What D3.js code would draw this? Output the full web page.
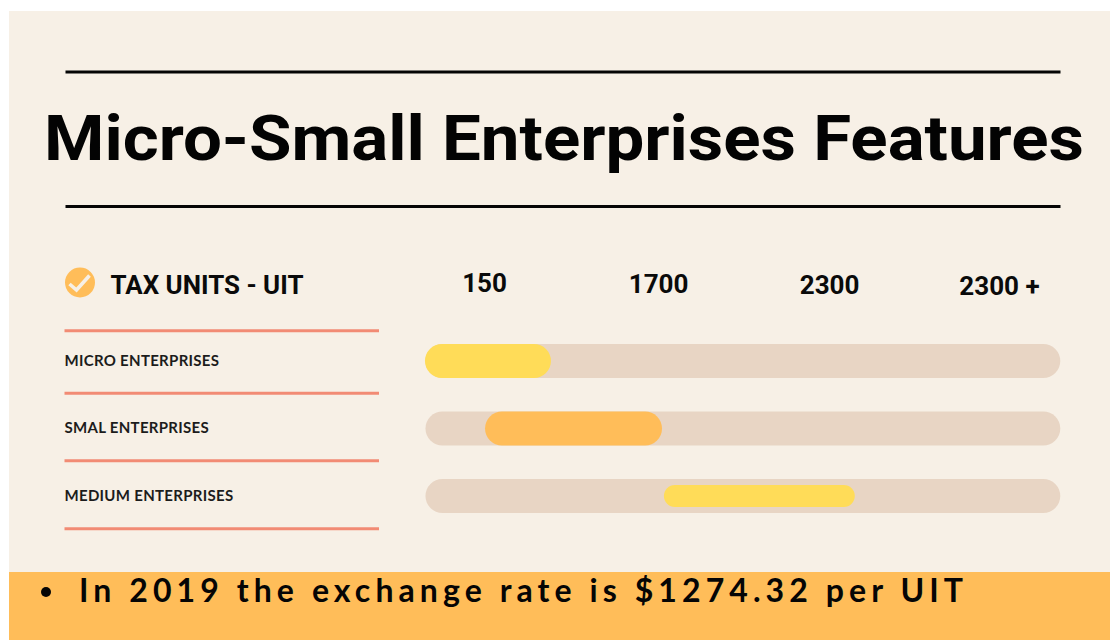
<!DOCTYPE html>
<html><head><meta charset="utf-8">
<style>html,body{margin:0;padding:0;background:#fff}svg{display:block}</style>
<script src="https://cdn.jsdelivr.net/npm/d3@7/dist/d3.min.js"></script>
</head><body>
<svg id="c" width="1110" height="640"></svg>
<script>
const titleText = "Micro-Small Enterprises Features";
const axisTitle = "TAX UNITS - UIT";
const tickLabels = ["150", "1700", "2300", "2300 +"];
const tickPositions = [0, 1.014, 2.01, 3];
const categories = ["MICRO ENTERPRISES", "SMAL ENTERPRISES", "MEDIUM ENTERPRISES"];
const rangeStart = [-0.344, 0.006, 1.048];
const rangeEnd = [0.39, 1.037, 2.16];
const trackStart = -0.341;
const trackEnd = 3.357;
const note = "In 2019 the exchange rate is $1274.32 per UIT";

const svg = d3.select("#c");
const x = d3.scaleLinear().domain([0, 3]).range([484, 999]);
const y = d3.scalePoint().domain(categories).range([361, 496]);
const barColor = ["#ffdc58", "#ffbd59", "#ffdc58"];
const barHeight = [34, 34, 22];
const sans = "Roboto, sans-serif";

// panels
svg.append("rect").attr("x", 9).attr("y", 11).attr("width", 1101).attr("height", 561).attr("fill", "#f7f0e6");
svg.append("rect").attr("x", 9).attr("y", 572).attr("width", 1101).attr("height", 68).attr("fill", "#ffbd59");

// title rules
svg.selectAll("line.rule").data([72, 206.5]).join("line").attr("class", "rule")
  .attr("x1", 65.5).attr("x2", 1060.5).attr("y1", d => d).attr("y2", d => d)
  .attr("stroke", "#050505").attr("stroke-width", 3);

svg.append("text").text(titleText)
  .attr("x", 44).attr("y", 160)
  .attr("font-family", sans).attr("font-weight", 700).attr("font-size", 63)
  .attr("textLength", 1040).attr("lengthAdjust", "spacingAndGlyphs")
  .attr("fill", "#030303");

// header
svg.append("ellipse").attr("cx", 80).attr("cy", 282.5).attr("rx", 15).attr("ry", 15).attr("fill", "#ffbd59");
svg.append("path").attr("d", "M69.5 284 L76.5 290 L89.5 275.5").attr("fill", "none")
  .attr("stroke", "#f7f0e6").attr("stroke-width", 3.6);
svg.append("text").text(axisTitle)
  .attr("x", 110.5).attr("y", 293.5)
  .attr("font-family", sans).attr("font-weight", 700).attr("font-size", 25)
  .attr("textLength", 193).attr("lengthAdjust", "spacingAndGlyphs").attr("fill", "#0a0a0a");

// top axis of tax-unit thresholds
const axis = d3.axisTop(x).tickValues(tickPositions).tickFormat((d, i) => tickLabels[i]).tickSize(0).tickPadding(0);
const ag = svg.append("g").attr("transform", "translate(0,292)").call(axis);
ag.select(".domain").remove();
ag.selectAll("text")
  .attr("font-family", sans).attr("font-weight", 700).attr("font-size", 26)
  .attr("fill", "#0a0a0a")
  .attr("dy", (d, i) => i)
  .attr("y", 0);

// salmon separators
const sepY = [330.7, 393.3, 460.7, 528.7];
svg.selectAll("line.sep").data(sepY).join("line").attr("class", "sep")
  .attr("x1", 64.5).attr("x2", 379).attr("y1", d => d).attr("y2", d => d)
  .attr("stroke", "#f28b74").attr("stroke-width", 3);

// category labels
svg.selectAll("text.cat").data(categories).join("text").attr("class", "cat")
  .text(d => d)
  .attr("x", 64.5).attr("y", (d, i) => y(d) + (i === 1 ? 4 : 5))
  .attr("font-family", "Lato, sans-serif").attr("font-weight", 700).attr("font-size", 15)
  .attr("letter-spacing", 0.3).attr("fill", "#1c1c1c");

// tracks
svg.selectAll("rect.track").data(categories).join("rect").attr("class", "track")
  .attr("x", x(trackStart)).attr("width", x(trackEnd) - x(trackStart))
  .attr("y", d => y(d) - 17).attr("height", 34).attr("rx", 17)
  .attr("fill", "#e8d5c4");

// bars
svg.selectAll("rect.bar").data(categories).join("rect").attr("class", "bar")
  .attr("x", (d, i) => x(rangeStart[i]))
  .attr("width", (d, i) => x(rangeEnd[i]) - x(rangeStart[i]))
  .attr("y", (d, i) => y(d) - barHeight[i] / 2)
  .attr("height", (d, i) => barHeight[i])
  .attr("rx", (d, i) => barHeight[i] / 2)
  .attr("fill", (d, i) => barColor[i]);

// note
svg.append("circle").attr("cx", 46).attr("cy", 592).attr("r", 5).attr("fill", "#050505");
svg.append("text").text(note)
  .attr("x", 79).attr("y", 602)
  .attr("font-family", "Lato, sans-serif").attr("font-weight", 700).attr("font-size", 32)
  .attr("textLength", 884).attr("lengthAdjust", "spacing").attr("fill", "#050505");
</script>
</body></html>
